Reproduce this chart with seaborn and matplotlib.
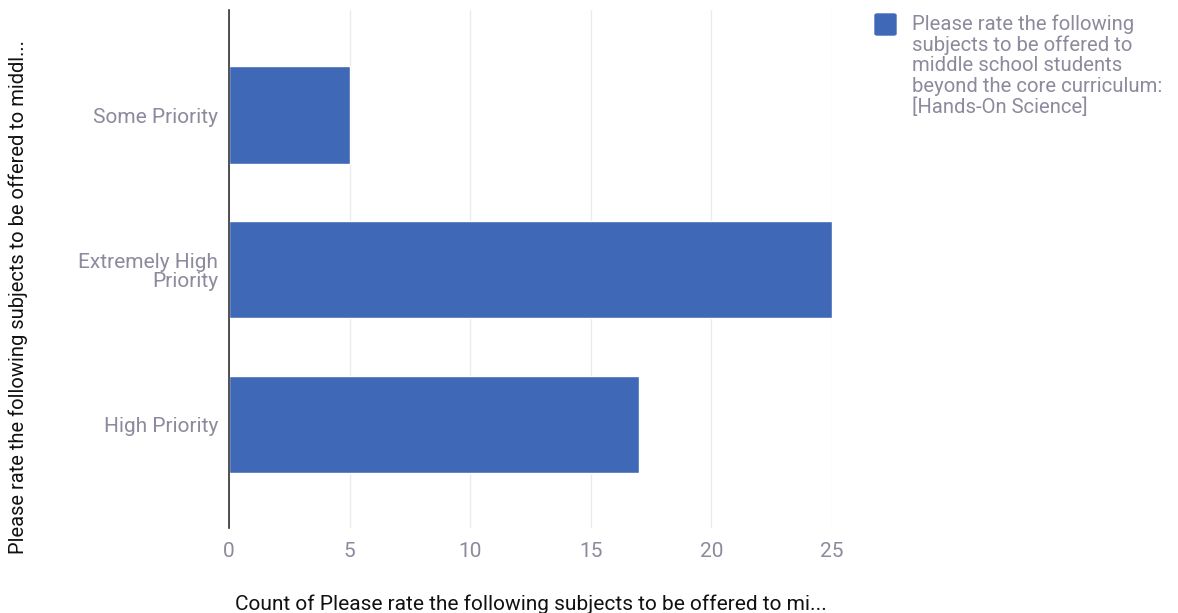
import seaborn as sns
import pandas as pd
import matplotlib.pyplot as plt
from matplotlib.patches import FancyBboxPatch

categories = ["Some Priority", "Extremely High\nPriority", "High Priority"]
counts = [5, 25, 17]
series_name = ("Please rate the following\nsubjects to be offered to\nmiddle school students\n"
               "beyond the core curriculum:\n[Hands-On Science]")
x_title = "Count of Please rate the following subjects to be offered to mi..."
y_title = "Please rate the following subjects to be offered to middl..."

bar_color = "#3f69b6"
label_grey = "#8c8a9c"

sns.set_style("white")
plt.rcParams['font.family'] = ['Roboto', 'DejaVu Sans']

df = pd.DataFrame({"answer": categories, "count": counts})

fig = plt.figure(figsize=(11.78, 6.13), dpi=100)
ax = fig.add_axes([0.1944, 0.1387, 0.5119, 0.845])

sns.barplot(data=df, x="count", y="answer", color=bar_color, width=0.63,
            saturation=1, ax=ax, zorder=3)

ax.set_xlim(0, 25)
ax.set_ylim(2.67, -0.68)
ax.set_xticks([0, 5, 10, 15, 20, 25])
ax.grid(axis='x', color='#ebebeb', linewidth=1, zorder=0)
for s in ['top', 'right', 'bottom']:
    ax.spines[s].set_visible(False)
ax.spines['left'].set_color('#333333')
ax.spines['left'].set_linewidth(1.2)
ax.spines['left'].set_zorder(4)
ax.tick_params(axis='both', length=0, labelsize=15, colors=label_grey)
ax.tick_params(axis='y', pad=8)
ax.tick_params(axis='x', pad=10)
for t in ax.get_yticklabels():
    t.set_linespacing(1.0)

ax.set_xlabel(x_title, fontsize=15, color='#111111')
ax.set_ylabel(y_title, fontsize=14.5, color='#111111')
ax.yaxis.set_label_coords(-0.333, 0.446)
ax.xaxis.set_label_coords(0.5, -0.128)

# legend: swatch + wrapped series name
fig.patches.append(FancyBboxPatch((875 / 1178, 1 - 35 / 613), 21 / 1178, 21 / 613,
                                  boxstyle="round,pad=0,rounding_size=0.002",
                                  transform=fig.transFigure, facecolor=bar_color,
                                  edgecolor=bar_color))
fig.text(912 / 1178, 1 - 14 / 613, series_name, fontsize=14.6, color=label_grey,
         va='top', ha='left', linespacing=1.1)

plt.savefig("out.png", dpi=100)
